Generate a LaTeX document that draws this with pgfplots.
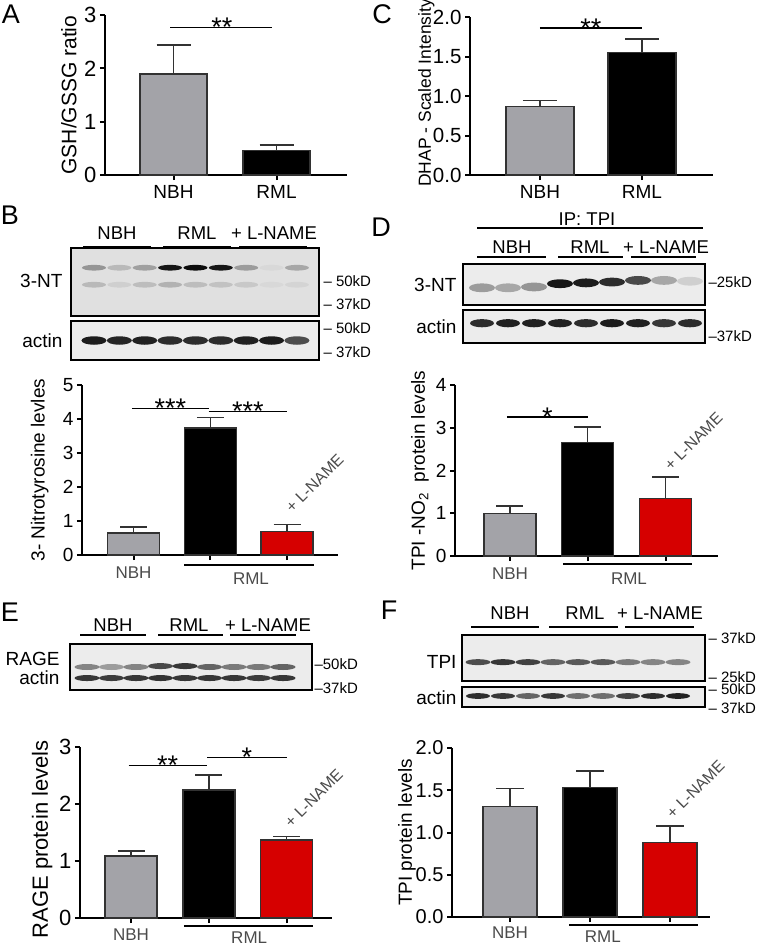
\documentclass[border=0pt]{standalone}
\usepackage{fontspec}
\setmainfont{Liberation Sans}
\usepackage{pgfplots}
\pgfplotsset{compat=1.18}

\definecolor{bgray}{RGB}{163,163,168}
\definecolor{bred}{RGB}{214,0,0}
\definecolor{edge}{RGB}{50,50,50}
\definecolor{lbl}{RGB}{75,75,75}
\definecolor{blotbg}{RGB}{224,224,224}
\definecolor{blotbgl}{RGB}{236,236,236}

\newcommand{\fs}[1]{\fontsize{#1}{#1}\selectfont}

\pgfdeclareplotmark{band}{\pgfpathellipse{\pgfpointorigin}{\pgfqpoint{\pgfplotmarksize}{0pt}}{\pgfqpoint{0pt}{0.24\pgfplotmarksize}}\pgfusepathqfill}
\pgfdeclareplotmark{bandthick}{\pgfpathellipse{\pgfpointorigin}{\pgfqpoint{\pgfplotmarksize}{0pt}}{\pgfqpoint{0pt}{0.34\pgfplotmarksize}}\pgfusepathqfill}

\pgfplotsset{
  barax/.style={scale only axis, anchor=south west,
    axis x line=bottom, axis y line=left,
    axis line style={-, line width=2pt, black},
    ymin=0, clip=false,
    tick align=outside, major tick length=5pt,
    tick style={line width=2pt, black},
    xticklabels={},
    /pgf/number format/assume math mode=true,
    every axis y label/.style={rotate=90, anchor=center},
  },
  onebar/.style n args={3}{ybar, bar shift=0pt, bar width=#1, fill=#3, draw=edge, line width=1.5pt,
    error bars/.cd, y dir=plus, y explicit,
    error bar style={line width=1.5pt, draw=edge},
    error mark options={rotate=90, line width=1.5pt, draw=edge, mark size=#2}},
  blot/.style={scale only axis, anchor=south west, ymin=0, ymax=1, ticks=none,
    axis line style={line width=2.8pt, black},
    axis background/.style={fill=blotbgl},
    colormap={blot}{rgb255=(234,234,234) rgb255=(12,12,12)},
    point meta min=0, point meta max=1},
  bands/.style={scatter, only marks, mark=band, mark size=#1, point meta=explicit,
    scatter/use mapped color={draw=none, fill=mapped color}},
}

\begin{document}
\begin{tikzpicture}
\useasboundingbox (0pt,0pt) rectangle (762pt,-946pt);

% ---------------- panel letters
\node[font=\fs{27}] at (11pt,-14pt) {A};
\node[font=\fs{27}] at (382pt,-14pt) {C};
\node[font=\fs{27}] at (10pt,-215pt) {B};
\node[font=\fs{27}] at (381pt,-227pt) {D};
\node[font=\fs{27}] at (10pt,-612pt) {E};
\node[font=\fs{27}] at (389pt,-610pt) {F};

% ================= A
\begin{axis}[barax, at={(105pt,-175pt)}, width=242pt, height=160pt,
  xmin=-0.665, xmax=1.684, ymax=3, ytick={0,1,2,3}, xtick={0,1},
  yticklabel style={font=\fs{22}},
  ylabel={GSH/GSSG ratio}, ylabel style={font=\fs{21}, at={(axis description cs:-0.149,0.5)}}]
\addplot[onebar={67pt}{17pt}{bgray}] coordinates {(0,1.89) +- (0,0.55)};
\addplot[onebar={67pt}{17pt}{black}] coordinates {(1,0.455) +- (0,0.105)};
\draw[line width=1.2pt] (axis cs:-0.03,2.76) -- (axis cs:0.96,2.76);
\node[font=\fs{27}, anchor=base] at ([yshift=-9pt]axis cs:0.47,2.76) {**};
\node[font=\fs{19}] at ([yshift=-17pt]axis cs:0,0) {NBH};
\node[font=\fs{19}] at ([yshift=-17pt]axis cs:1,0) {RML};
\end{axis}

% ================= C
\begin{axis}[barax, at={(470pt,-175pt)}, width=243pt, height=158pt,
  xmin=-0.686, xmax=1.696, ymax=2, ytick={0,0.5,1,1.5,2}, xtick={0,1},
  yticklabel style={font=\fs{20.5}, /pgf/number format/fixed, /pgf/number format/fixed zerofill, /pgf/number format/precision=1},
  ylabel={DHAP - Scaled Intensity}, ylabel style={font=\fs{17.5}, at={(axis description cs:-0.180,0.52)}}]
\addplot[onebar={68pt}{17pt}{bgray}] coordinates {(0,0.865) +- (0,0.075)};
\addplot[onebar={68pt}{17pt}{black}] coordinates {(1,1.553) +- (0,0.167)};
\draw[line width=1.2pt] (axis cs:0,1.86) -- (axis cs:1,1.86);
\node[font=\fs{27}, anchor=base] at ([yshift=-9pt]axis cs:0.5,1.86) {**};
\node[font=\fs{19}] at ([yshift=-17pt]axis cs:0,0) {NBH};
\node[font=\fs{19}] at ([yshift=-17pt]axis cs:1,0) {RML};
\end{axis}

% ================= B blots
\node[font=\fs{18.5}] at (117pt,-233pt) {NBH};
\node[font=\fs{18.5}] at (197pt,-233pt) {RML};
\node[font=\fs{18.5}] at (274pt,-233pt) {+ L-NAME};
\draw[line width=1.2pt] (83pt,-247pt) -- (151pt,-247pt);
\draw[line width=1.2pt] (163pt,-247pt) -- (231pt,-247pt);
\draw[line width=1.2pt] (239pt,-247pt) -- (307pt,-247pt);
\node[font=\fs{19}, anchor=east] at (66pt,-281pt) {3-NT};
\node[font=\fs{19}, anchor=east] at (66pt,-341pt) {actin};
\node[font=\fs{15}, anchor=west] at (320pt,-281pt) {– 50kD};
\node[font=\fs{15}, anchor=west] at (320pt,-304pt) {– 37kD};
\node[font=\fs{15}, anchor=west] at (320pt,-328pt) {– 50kD};
\node[font=\fs{15}, anchor=west] at (320pt,-352pt) {– 37kD};

\begin{axis}[blot, at={(71pt,-316pt)}, width=248pt, height=68pt, xmin=0.094, xmax=9.87,
  axis background/.style={fill=blotbg}]
\addplot[bands=12pt] table[meta=c] {
x y c
1 0.71 0.38
2 0.71 0.22
3 0.71 0.33
4 0.71 0.95
5 0.71 1.00
6 0.71 0.95
7 0.71 0.35
8 0.71 0.08
9 0.71 0.30
};
\addplot[bands=12pt] table[meta=c] {
x y c
1 0.46 0.22
2 0.46 0.12
3 0.46 0.20
4 0.46 0.25
5 0.46 0.20
6 0.46 0.18
7 0.46 0.15
8 0.46 0.08
9 0.46 0.10
};
\end{axis}
\begin{axis}[blot, at={(71pt,-360pt)}, width=248pt, height=39pt, xmin=0.094, xmax=9.87]
\addplot[bands=12.5pt, mark=bandthick] table[meta=c] {
x y c
1 0.50 0.92
2 0.50 0.88
3 0.50 0.90
4 0.50 0.85
5 0.50 0.85
6 0.50 0.85
7 0.50 0.90
8 0.50 0.92
9 0.50 0.70
};
\end{axis}

% ================= B chart
\begin{axis}[barax, at={(82pt,-555pt)}, width=256pt, height=170pt,
  xmin=-0.671, xmax=2.664, ymax=5, ytick={0,1,2,3,4,5}, xtick={0,1,2},
  yticklabel style={font=\fs{19}},
  ylabel={3- Nitrotyrosine levles}, ylabel style={font=\fs{19}, at={(axis description cs:-0.165,0.5)}}]
\addplot[onebar={52pt}{13.5pt}{bgray}] coordinates {(0,0.64) +- (0,0.19)};
\addplot[onebar={52pt}{13.5pt}{black}] coordinates {(1,3.74) +- (0,0.31)};
\addplot[onebar={52pt}{13.5pt}{bred}] coordinates {(2,0.69) +- (0,0.21)};
\draw[line width=1.2pt] (axis cs:-0.02,4.32) -- (axis cs:0.98,4.32);
\draw[line width=1.2pt] (axis cs:0.98,4.21) -- (axis cs:2,4.21);
\node[font=\fs{27}, anchor=base] at ([yshift=-9pt]axis cs:0.48,4.32) {***};
\node[font=\fs{27}, anchor=base] at ([yshift=-9pt]axis cs:1.49,4.21) {***};
\node[font=\fs{16}, text=lbl, rotate=45] at (axis cs:2.36,2.12) {+ L-NAME};
\node[font=\fs{17}, text=lbl] at ([yshift=-18pt]axis cs:0,0) {NBH};
\draw[line width=1.2pt] ([yshift=-10pt]axis cs:0.658,0) -- ([yshift=-10pt]axis cs:2.35,0);
\node[font=\fs{17}, text=lbl] at ([yshift=-24pt]axis cs:1.53,0) {RML};
\end{axis}

% ================= D blots
\node[font=\fs{18.5}] at (587pt,-219pt) {IP: TPI};
\draw[line width=1.2pt] (477pt,-228pt) -- (703pt,-228pt);
\node[font=\fs{18.5}] at (512pt,-247pt) {NBH};
\node[font=\fs{18.5}] at (590pt,-247pt) {RML};
\node[font=\fs{18.5}] at (666pt,-247pt) {+ L-NAME};
\draw[line width=1.2pt] (477pt,-257pt) -- (546pt,-257pt);
\draw[line width=1.2pt] (558pt,-257pt) -- (623pt,-257pt);
\draw[line width=1.2pt] (631pt,-257pt) -- (696pt,-257pt);
\node[font=\fs{19}, anchor=east] at (460pt,-285pt) {3-NT};
\node[font=\fs{19}, anchor=east] at (460pt,-327pt) {actin};
\node[font=\fs{15}, anchor=west] at (705pt,-282pt) {–25kD};
\node[font=\fs{15}, anchor=west] at (705pt,-336pt) {–37kD};

\begin{axis}[blot, at={(463pt,-305pt)}, width=242pt, height=41pt, xmin=0.269, xmax=9.577]
\addplot[bands=13pt, mark=bandthick] table[meta=c] {
x y c
1 0.42 0.35
2 0.42 0.30
3 0.44 0.38
4 0.52 0.95
5 0.54 0.92
6 0.56 0.85
7 0.60 0.72
8 0.60 0.30
9 0.58 0.12
};
\end{axis}
\begin{axis}[blot, at={(463pt,-343pt)}, width=242pt, height=33pt, xmin=0.269, xmax=9.577]
\addplot[bands=12pt, mark=bandthick] table[meta=c] {
x y c
1 0.60 0.85
2 0.60 0.90
3 0.60 0.90
4 0.60 0.90
5 0.60 0.85
6 0.60 0.92
7 0.60 0.90
8 0.60 0.80
9 0.60 0.85
};
\end{axis}

% ================= D chart
\begin{axis}[barax, at={(455pt,-556pt)}, width=263pt, height=171pt,
  xmin=-0.707, xmax=2.675, ymax=4, ytick={0,1,2,3,4}, xtick={0,1,2},
  yticklabel style={font=\fs{19}},
  ylabel={TPI -NO\textsubscript{2}\ \ protein levels}, ylabel style={font=\fs{19}, at={(axis description cs:-0.133,0.5)}}]
\addplot[onebar={52pt}{13.5pt}{bgray}] coordinates {(0,1.0) +- (0,0.17)};
\addplot[onebar={52pt}{13.5pt}{black}] coordinates {(1,2.65) +- (0,0.37)};
\addplot[onebar={52pt}{13.5pt}{bred}] coordinates {(2,1.35) +- (0,0.5)};
\draw[line width=1.2pt] (axis cs:-0.04,3.25) -- (axis cs:1.0,3.25);
\node[font=\fs{27}, anchor=base] at ([yshift=-9pt]axis cs:0.48,3.25) {*};
\node[font=\fs{16}, text=lbl, rotate=45] at (axis cs:2.36,2.68) {+ L-NAME};
\node[font=\fs{17}, text=lbl] at ([yshift=-18pt]axis cs:0,0) {NBH};
\draw[line width=1.2pt] ([yshift=-8pt]axis cs:0.68,0) -- ([yshift=-8pt]axis cs:2.34,0);
\node[font=\fs{17}, text=lbl] at ([yshift=-23pt]axis cs:1.53,0) {RML};
\end{axis}

% ================= E blot
\node[font=\fs{18.5}] at (113pt,-625pt) {NBH};
\node[font=\fs{18.5}] at (189pt,-625pt) {RML};
\node[font=\fs{18.5}] at (268pt,-625pt) {+ L-NAME};
\draw[line width=1.2pt] (80pt,-635pt) -- (146pt,-635pt);
\draw[line width=1.2pt] (158pt,-635pt) -- (223pt,-635pt);
\draw[line width=1.2pt] (230pt,-635pt) -- (296pt,-635pt);
\node[font=\fs{19}, anchor=east] at (63pt,-659pt) {RAGE};
\node[font=\fs{19}, anchor=east] at (63pt,-678pt) {actin};
\node[font=\fs{15}, anchor=west] at (311pt,-664pt) {–50kD};
\node[font=\fs{15}, anchor=west] at (311pt,-688pt) {–37kD};

\begin{axis}[blot, at={(70pt,-690pt)}, width=242pt, height=46pt, xmin=0.306, xmax=10.18]
\addplot[bands=12.5pt] table[meta=c] {
x y c
1 0.50 0.45
2 0.50 0.35
3 0.50 0.45
4 0.52 0.72
5 0.52 0.80
6 0.50 0.60
7 0.50 0.50
8 0.50 0.50
9 0.50 0.60
};
\addplot[bands=12.5pt] table[meta=c] {
x y c
1 0.26 0.80
2 0.26 0.78
3 0.26 0.80
4 0.26 0.82
5 0.26 0.80
6 0.26 0.80
7 0.26 0.80
8 0.26 0.78
9 0.26 0.80
};
\end{axis}

% ================= E chart
\begin{axis}[barax, at={(80pt,-918pt)}, width=252pt, height=171pt,
  xmin=-0.656, xmax=2.585, ymax=3, ytick={0,1,2,3}, xtick={0,1,2},
  yticklabel style={font=\fs{22}},
  ylabel={RAGE protein levels}, ylabel style={font=\fs{22}, at={(axis description cs:-0.150,0.46)}}]
\addplot[onebar={52pt}{13.5pt}{bgray}] coordinates {(0,1.09) +- (0,0.09)};
\addplot[onebar={52pt}{13.5pt}{black}] coordinates {(1,2.25) +- (0,0.26)};
\addplot[onebar={52pt}{13.5pt}{bred}] coordinates {(2,1.37) +- (0,0.06)};
\draw[line width=1.2pt] (axis cs:-0.03,2.68) -- (axis cs:0.98,2.68);
\draw[line width=1.2pt] (axis cs:0.98,2.82) -- (axis cs:2.0,2.82);
\node[font=\fs{27}, anchor=base] at ([yshift=-9pt]axis cs:0.47,2.68) {**};
\node[font=\fs{27}, anchor=base] at ([yshift=-9pt]axis cs:1.49,2.82) {*};
\node[font=\fs{16}, text=lbl, rotate=45] at (axis cs:2.35,2.1) {+ L-NAME};
\node[font=\fs{17}, text=lbl] at ([yshift=-17pt]axis cs:0,0) {NBH};
\draw[line width=1.2pt] ([yshift=-8pt]axis cs:0.68,0) -- ([yshift=-8pt]axis cs:2.34,0);
\node[font=\fs{17}, text=lbl, inner sep=0pt] at ([yshift=-19.5pt]axis cs:1.52,0) {RML};
\end{axis}

% ================= F blots
\node[font=\fs{18.5}] at (510pt,-613pt) {NBH};
\node[font=\fs{18.5}] at (585pt,-613pt) {RML};
\node[font=\fs{18.5}] at (660pt,-613pt) {+ L-NAME};
\draw[line width=1.2pt] (471pt,-627pt) -- (539pt,-627pt);
\draw[line width=1.2pt] (549pt,-627pt) -- (618pt,-627pt);
\draw[line width=1.2pt] (625pt,-627pt) -- (694pt,-627pt);
\node[font=\fs{19}, anchor=east] at (460pt,-662pt) {TPI};
\node[font=\fs{19}, anchor=east] at (460pt,-698pt) {actin};
\node[font=\fs{15}, anchor=west] at (705pt,-638pt) {– 37kD};
\node[font=\fs{15}, anchor=west] at (705pt,-677pt) {– 25kD};
\node[font=\fs{15}, anchor=west] at (705pt,-689pt) {– 50kD};
\node[font=\fs{15}, anchor=west] at (705pt,-708pt) {– 37kD};

\begin{axis}[blot, at={(462pt,-681pt)}, width=243pt, height=46pt, xmin=0.36, xmax=10.08]
\addplot[bands=12.5pt] table[meta=c] {
x y c
1 0.41 0.70
2 0.41 0.80
3 0.41 0.75
4 0.41 0.60
5 0.41 0.65
6 0.41 0.65
7 0.41 0.50
8 0.41 0.45
9 0.41 0.45
};
\end{axis}
\begin{axis}[blot, at={(462pt,-707pt)}, width=243pt, height=20pt, xmin=0.36, xmax=10.08]
\addplot[bands=12pt] table[meta=c] {
x y c
1 0.55 0.85
2 0.55 0.80
3 0.55 0.60
4 0.55 0.80
5 0.55 0.55
6 0.55 0.55
7 0.55 0.75
8 0.55 0.85
9 0.55 0.90
};
\end{axis}

% ================= F chart
\begin{axis}[barax, at={(452pt,-917pt)}, width=258pt, height=169pt,
  xmin=-0.725, xmax=2.5, ymax=2, ytick={0,0.5,1,1.5,2}, xtick={0,1,2},
  yticklabel style={font=\fs{20}, /pgf/number format/fixed, /pgf/number format/fixed zerofill, /pgf/number format/precision=1},
  ylabel={TPI protein levels}, ylabel style={font=\fs{19}, at={(axis description cs:-0.175,0.5)}}]
\addplot[onebar={54pt}{14pt}{bgray}] coordinates {(0,1.305) +- (0,0.215)};
\addplot[onebar={54pt}{14pt}{black}] coordinates {(1,1.535) +- (0,0.195)};
\addplot[onebar={54pt}{14pt}{bred}] coordinates {(2,0.88) +- (0,0.20)};
\node[font=\fs{16}, text=lbl, rotate=45] at (axis cs:2.32,1.51) {+ L-NAME};
\node[font=\fs{17}, text=lbl] at ([yshift=-16pt]axis cs:0,0) {NBH};
\draw[line width=1.2pt] ([yshift=-8pt]axis cs:0.74,0) -- ([yshift=-8pt]axis cs:2.35,0);
\node[font=\fs{17}, text=lbl, inner sep=0pt] at ([yshift=-20pt]axis cs:1.16,0) {RML};
\end{axis}

\end{tikzpicture}
\end{document}
